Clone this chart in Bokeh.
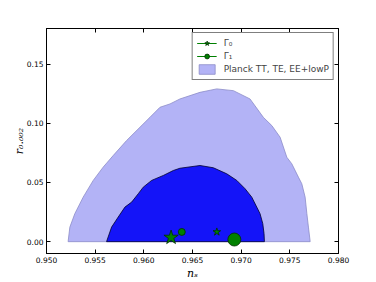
import numpy as np
from bokeh.plotting import figure
from bokeh.models import (FixedTicker, LinearAxis, Range1d, Legend, LegendItem,
                          ColumnDataSource, NumeralTickFormatter)
from bokeh.embed import file_html
from bokeh.resources import INLINE

# ---- data ----
outer_ns = [0.95222, 0.95240, 0.95291, 0.95377, 0.95480, 0.95582, 0.95685, 0.95823,
            0.95960, 0.96063, 0.96166, 0.96269, 0.96371, 0.96577, 0.96749, 0.96920,
            0.97091, 0.97228, 0.97315, 0.97400, 0.97469, 0.97520, 0.97588, 0.97623,
            0.97657, 0.97675, 0.97691, 0.97709]
outer_r = [0.0, 0.0123, 0.0236, 0.0376, 0.0517, 0.0629, 0.0727, 0.0854,
           0.0966, 0.1050, 0.1135, 0.1163, 0.1205, 0.1261, 0.1290, 0.1275,
           0.1205, 0.1050, 0.0980, 0.0882, 0.0713, 0.0658, 0.0545, 0.0489,
           0.0376, 0.0236, 0.0123, 0.0]

inner_ns = [0.95617, 0.95651, 0.95669, 0.95737, 0.95806, 0.95875, 0.95943, 0.95994,
            0.96080, 0.96200, 0.96303, 0.96371, 0.96577, 0.96714, 0.96852, 0.96955,
            0.97040, 0.97109, 0.97160, 0.97194, 0.97222, 0.97235, 0.97239]
inner_r = [0.0, 0.0081, 0.0123, 0.0208, 0.0292, 0.0334, 0.0405, 0.0460,
           0.0517, 0.0559, 0.0601, 0.0620, 0.0643, 0.0624, 0.0573, 0.0517,
           0.0447, 0.0376, 0.0292, 0.0236, 0.0152, 0.0068, 0.0]

gamma0_ns = [0.9628, 0.9675]
gamma0_r = [0.0035, 0.0082]
gamma1_ns = [0.9639, 0.9693]
gamma1_r = [0.0082, 0.0018]

# marker sizes (style)
gamma0_size = [15, 8]
gamma1_size = [7, 13]

x_ticks = [0.950, 0.955, 0.960, 0.965, 0.970, 0.975, 0.980]
y_ticks = [0.00, 0.05, 0.10, 0.15]
x_range = (0.950, 0.980)
y_range = (-0.01, 0.18)

x_label = "n\u209b"
y_label = "r\u2080.\u2080\u2080\u2082"
legend_labels = ["\u0393\u2080", "\u0393\u2081", "Planck TT, TE, EE+lowP"]

# ---- figure ----
p = figure(width=376, height=282, frame_width=292, frame_height=225,
           x_range=Range1d(*x_range), y_range=Range1d(*y_range),
           output_backend="svg", toolbar_location=None,
           min_border_left=46, min_border_right=38, min_border_top=28, min_border_bottom=29)
# a range far away from the data, used only for legend line handles
p.extra_y_ranges = {"legend_only": Range1d(10, 11)}

p.grid.visible = False
p.background_fill_color = "white"
p.border_fill_color = "white"
p.outline_line_color = "black"
p.outline_line_width = 1

for ax in (p.xaxis[0], p.yaxis[0]):
    ax.major_tick_in = 4
    ax.major_tick_out = 0
    ax.minor_tick_line_color = None
    ax.axis_line_color = "black"
    ax.major_tick_line_color = "black"
    ax.major_label_text_font = "DejaVu Sans"
    ax.major_label_text_font_size = "7.5px"
    ax.major_label_text_color = "black"
    ax.major_label_standoff = 3
    ax.axis_label_text_font = "DejaVu Serif"
    ax.axis_label_text_font_style = "italic"
    ax.axis_label_text_font_size = "11px"
    ax.axis_label_text_color = "black"

p.xaxis[0].ticker = FixedTicker(ticks=x_ticks)
p.xaxis[0].formatter = NumeralTickFormatter(format="0.000")
p.xaxis[0].axis_label = x_label
p.xaxis[0].axis_label_standoff = 1
p.yaxis[0].ticker = FixedTicker(ticks=y_ticks)
p.yaxis[0].formatter = NumeralTickFormatter(format="0.00")
p.yaxis[0].axis_label = y_label
p.yaxis[0].axis_label_standoff = -2

top_ax = LinearAxis(ticker=FixedTicker(ticks=x_ticks), major_tick_in=4, major_tick_out=0,
                    minor_tick_line_color=None, major_label_text_color=None,
                    axis_line_color="black")
right_ax = LinearAxis(ticker=FixedTicker(ticks=y_ticks), major_tick_in=4, major_tick_out=0,
                      minor_tick_line_color=None, major_label_text_color=None,
                      axis_line_color="black")
p.add_layout(top_ax, "above")
p.add_layout(right_ax, "right")

# contours
outer = p.patch(outer_ns, outer_r, fill_color="#b3b3f6", line_color="#8c8cc8", line_width=0.8)
inner = p.patch(inner_ns, inner_r, fill_color="#1414f8", line_color="#000030", line_width=0.8)

src0 = ColumnDataSource(dict(x=gamma0_ns, y=gamma0_r, s=gamma0_size))
src1 = ColumnDataSource(dict(x=gamma1_ns, y=gamma1_r, s=gamma1_size))

s0 = p.scatter("x", "y", size="s", marker="star", source=src0,
               fill_color="#008000", line_color="#003000", line_width=0.8)
s1 = p.scatter("x", "y", size="s", marker="circle", source=src1,
               fill_color="#008000", line_color="#003000", line_width=0.8)

# legend-only line handles (mapped onto a range outside the frame, so not visible)
l0 = p.line("x", "y", source=src0, y_range_name="legend_only", line_color="#008000", line_width=1.2)
l1 = p.line("x", "y", source=src1, y_range_name="legend_only", line_color="#008000", line_width=1.2)

legend = Legend(items=[LegendItem(label=legend_labels[0], renderers=[l0, s0]),
                       LegendItem(label=legend_labels[1], renderers=[l1, s1]),
                       LegendItem(label=legend_labels[2], renderers=[outer])],
                location="top_right", margin=4, padding=4, spacing=1,
                glyph_width=20, glyph_height=12, label_height=12, label_standoff=7,
                label_text_font="DejaVu Sans", label_text_font_size="9px",
                border_line_color="black", border_line_width=1,
                background_fill_color="white", background_fill_alpha=1.0)
p.add_layout(legend)

open("out.html", "w").write(file_html(p, INLINE))
